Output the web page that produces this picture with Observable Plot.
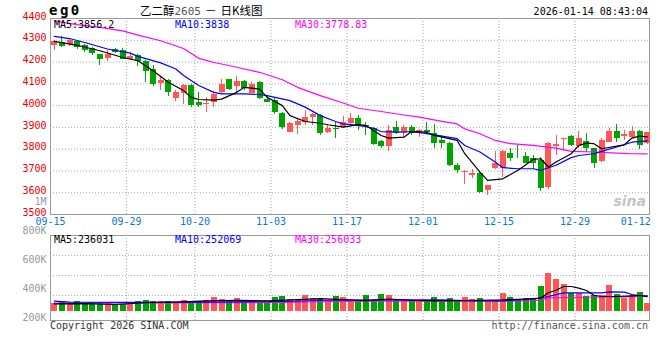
<!DOCTYPE html>
<html><head><meta charset="utf-8">
<script src="https://cdn.jsdelivr.net/npm/d3@7"></script>
<script src="https://cdn.jsdelivr.net/npm/@observablehq/plot@0.6"></script>
<style>
body{margin:0;background:#fff;}
#wrap{position:relative;width:660px;height:360px;overflow:hidden;background:#fff;}
#wrap svg{position:absolute;left:0;top:0;}
</style></head><body><div id="wrap"></div>
<script>
// ---------- data ----------
const dates = ["09-15","09-16","09-17","09-18","09-19","09-22","09-23","09-24","09-25","09-26",
  "09-29","09-30","10-09","10-10","10-13","10-14","10-15","10-16","10-17","10-20",
  "10-21","10-22","10-23","10-24","10-27","10-28","10-29","10-30","10-31","11-03",
  "11-04","11-05","11-06","11-07","11-10","11-11","11-12","11-13","11-14","11-17",
  "11-18","11-19","11-20","11-21","11-24","11-25","11-26","11-27","11-28","12-01",
  "12-02","12-03","12-04","12-05","12-08","12-09","12-10","12-11","12-12","12-15",
  "12-16","12-17","12-18","12-19","12-22","12-23","12-24","12-25","12-26","12-29",
  "12-30","12-31","01-05","01-06","01-07","01-08","01-09","01-12","01-13"];
const open  = [4278,4292,4280,4296,4274,4260,4234,4217,4257,4255,4212,4232,4202,4165,4102,4115,4034,4057,4092,4012,
  4003,4015,4062,4119,4087,4110,4054,4104,4028,4023,3962,3878,3909,3924,3947,3954,3878,3895,3901,3916,
  3939,3909,3893,3837,3810,3901,3875,3901,3871,3886,3871,3840,3825,3726,3693,3680,3687,3608,3710,3713,
  3779,3773,3767,3756,3749,3626,3814,3843,3858,3810,3836,3802,3744,3832,3881,3858,3855,3881,3825];
const high  = [4300,4316,4305,4300,4280,4268,4236,4253,4262,4260,4245,4236,4208,4183,4134,4118,4069,4099,4095,4061,
  4038,4067,4122,4122,4134,4115,4107,4110,4043,4038,3967,3921,3936,3977,3962,3958,3909,3924,3951,3962,
  3954,3921,3901,3840,3909,3927,3909,3909,3890,3921,3912,3863,3829,3733,3700,3707,3695,3634,3787,3794,
  3802,3817,3784,3771,3764,3829,3863,3851,3863,3881,3871,3805,3851,3897,3913,3886,3906,3884,3878];
const low   = [4254,4268,4272,4258,4245,4230,4183,4202,4240,4211,4206,4180,4107,4087,4069,4043,4020,4006,3993,3993,
  3970,3993,4055,4069,4061,4069,4054,4028,4012,3958,3890,3875,3866,3908,3909,3863,3871,3851,3897,3908,
  3886,3863,3817,3802,3790,3866,3855,3863,3855,3871,3805,3805,3722,3687,3637,3665,3597,3586,3707,3672,
  3744,3759,3733,3707,3607,3616,3771,3787,3814,3805,3784,3710,3741,3829,3832,3840,3848,3797,3822];
const close = [4293,4272,4300,4266,4252,4238,4211,4235,4244,4214,4225,4203,4157,4096,4115,4061,4061,4092,4000,4000,
  4008,4052,4098,4073,4110,4077,4099,4031,4015,3967,3901,3916,3927,3945,3958,3871,3897,3890,3924,3939,
  3909,3904,3822,3810,3886,3871,3901,3871,3886,3875,3825,3825,3726,3700,3698,3687,3599,3631,3733,3791,
  3759,3769,3736,3733,3619,3825,3822,3848,3817,3851,3802,3733,3840,3881,3848,3869,3881,3817,3878];
const volume = [123000,160000,112000,160000,123000,123000,123000,123000,112000,112000,
  123000,160000,176000,160000,160000,160000,123000,176000,160000,160000,
  176000,224000,192000,165000,208000,165000,160000,133000,133000,224000,
  240000,192000,176000,256000,208000,187000,176000,240000,224000,176000,
  176000,256000,176000,272000,256000,176000,176000,176000,176000,176000,
  224000,144000,208000,176000,224000,192000,208000,176000,176000,288000,
  224000,192000,208000,208000,400000,608000,512000,432000,283000,283000,
  240000,256000,256000,416000,272000,208000,256000,304000,128000];

// moving-average lines, read at sample candles (index, value)
const ma5Idx  = [0,3,6,9,11,13,15,17,18,19,21,22,24,25,27,28,30,31,33,35,36,38,40,41,43,44,46,47,49,50,53,54,56,57,59,61,63,64,65,66,68,69,70,71,72,74,75,76,77,78];
const ma5Val  = [4295,4277,4252,4221,4206,4160,4107,4069,4038,4028,4025,4030,4061,4084,4076,4038,4000,3954,3927,3919,3912,3901,3913,3909,3863,3851,3855,3881,3878,3863,3840,3779,3695,3657,3664,3703,3753,3756,3718,3741,3779,3817,3828,3825,3802,3814,3820,3851,3860,3856];
const ma10Idx = [0,2,4,7,10,11,14,16,17,19,21,22,25,27,28,31,33,35,37,38,40,42,43,46,47,49,51,53,54,56,58,59,61,63,64,66,68,69,71,72,74,76,78];
const ma10Val = [4318,4308,4290,4260,4241,4226,4196,4168,4138,4092,4061,4054,4054,4051,4046,4023,3993,3954,3927,3916,3909,3896,3881,3878,3881,3871,3860,3848,3817,3787,3741,3715,3710,3710,3703,3726,3761,3771,3779,3790,3810,3832,3838];
const ma30Idx = [0,3,6,9,11,14,17,19,21,22,24,27,30,32,35,38,40,43,46,48,51,53,54,56,58,60,63,66,68,71,74,76,78];
const ma30Val = [4389,4372,4359,4343,4324,4298,4262,4217,4198,4191,4176,4153,4119,4084,4046,4012,3988,3973,3957,3947,3928,3916,3893,3871,3840,3825,3817,3805,3790,3787,3782,3779,3778];

const vma5Idx  = [0,4,8,12,16,20,24,28,32,35,38,41,44,47,50,53,56,59,62,63,64,65,66,67,68,69,70,71,72,74,76,77,78];
const vma5Val  = [123000,125000,112000,140000,150000,170000,180000,170000,190000,205000,190000,175000,200000,180000,170000,175000,180000,185000,200000,205000,215000,300000,340000,400000,400000,375000,336000,260000,240000,240000,250000,256000,236000];
const vma10Idx = [0,2,10,20,30,36,44,51,55,59,63,65,67,72,73,75,76,77,78];
const vma10Val = [165000,150000,145000,150000,160000,180000,187000,185000,170000,170000,200000,240000,299000,299000,315000,309000,272000,256000,252000];
const vma30Idx = [0,15,30,37,45,55,63,64,65,70,75,78];
const vma30Val = [133000,136000,145000,160000,165000,165000,168000,190000,219000,228000,235000,245000];

const priceTicks = [3500,3600,3700,3800,3900,4000,4100,4200,4300,4400];
const labelDates = ["09-15","09-29","10-20","11-03","11-17","12-01","12-15","12-29","01-12"];
const volTicks = [200000,400000,600000,800000,1000000];
const volGrid = [256000,576000,896000];

// ---------- styles ----------
const RED = "#ff5656", GREEN = "#00a400";
const MONO = "DejaVu Sans Mono, monospace";
const DOT = {stroke:"#a8a8a8", strokeOpacity:1, strokeDasharray:"1,2"};

const candles = dates.map((d, i) => ({i, d, o: open[i], h: high[i], l: low[i], c: close[i], v: volume[i],
  col: close[i] >= open[i] ? RED : GREEN}));
const slots = labelDates.map(s => dates.indexOf(s) - 0.5);
const innerSlots = slots.slice(1, -1);
const pts = (idx, val) => idx.map((x, k) => ({x, y: val[k]}));
const xOpt = {type: "linear", domain: [-0.5, 78.3]};

const wrap = document.getElementById("wrap");

// ---------- volume panel ----------
const vol = Plot.plot({
  width: 660, height: 335, marginLeft: 50, marginRight: 11, marginTop: 235, marginBottom: 15,
  style: {background: "none", fontFamily: MONO, fontSize: "10px"},
  x: {...xOpt, axis: null},
  y: {domain: [0, 1000000], range: [311, 311 - 1000000 / 16000], axis: null},
  color: {type: "identity"},
  marks: [
    Plot.gridY(volGrid, DOT),
    Plot.gridX(innerSlots, DOT),
    Plot.frame({stroke: "#999"}),
    Plot.ruleX(candles, {x: "i", y1: 0, y2: "v", stroke: "col", strokeWidth: 6, shapeRendering: "crispEdges"}),
    Plot.line(pts(vma30Idx, vma30Val), {x: "x", y: "y", stroke: "#ff00ff", strokeWidth: 1.2}),
    Plot.line(pts(vma10Idx, vma10Val), {x: "x", y: "y", stroke: "#0000ff", strokeWidth: 1.2}),
    Plot.line(pts(vma5Idx, vma5Val), {x: "x", y: "y", stroke: "#000", strokeWidth: 1.2})
  ]
});
wrap.appendChild(vol);

// ---------- price panel ----------
const price = Plot.plot({
  width: 660, height: 230, marginLeft: 50, marginRight: 11, marginTop: 18, marginBottom: 16,
  style: {background: "none", fontFamily: MONO, fontSize: "10px"},
  x: xOpt,
  y: {domain: [3500, 4400]},
  color: {type: "identity"},
  marks: [
    Plot.gridY(priceTicks.slice(1, -1), DOT),
    Plot.gridX(innerSlots, DOT),
    Plot.frame({stroke: "#999"}),
    Plot.ruleX(candles, {x: "i", y1: "l", y2: "h", stroke: "col", strokeWidth: 1, shapeRendering: "crispEdges"}),
    Plot.ruleX(candles, {x: "i", y1: "o", y2: "c", stroke: "col", strokeWidth: 6, shapeRendering: "crispEdges"}),
    Plot.line(pts(ma30Idx, ma30Val), {x: "x", y: "y", stroke: "#ff00ff", strokeWidth: 1.2}),
    Plot.line(pts(ma10Idx, ma10Val), {x: "x", y: "y", stroke: "#0000ff", strokeWidth: 1.2}),
    Plot.line(pts(ma5Idx, ma5Val), {x: "x", y: "y", stroke: "#000", strokeWidth: 1.2}),
    Plot.axisY(priceTicks, {tickSize: 0, tickPadding: 4, color: "#ee0000", fill: "#ee0000", dy: -2, tickFormat: d => String(d)}),
    Plot.axisX(slots, {tickSize: 0, tickPadding: 3, color: "#0a78cc", fill: "#0a78cc",
      tickFormat: d => labelDates[slots.indexOf(d)]})
  ]
});
wrap.appendChild(price);

// ---------- volume axis labels ----------
const volAxis = Plot.plot({
  width: 660, height: 360, marginLeft: 50, marginRight: 11, marginTop: 0, marginBottom: 0,
  style: {background: "none", fontFamily: MONO, fontSize: "10px"},
  x: {domain: [0, 1], axis: null},
  y: {domain: [200000, 1000000], range: [317, 201]},
  marks: [
    Plot.axisY(volTicks, {tickSize: 0, tickPadding: 4, color: "#999", fill: "#999",
      tickFormat: d => d >= 1000000 ? (d / 1000000) + "M" : (d / 1000) + "K"})
  ]
});
wrap.appendChild(volAxis);

// ---------- titles, legends, captions ----------
const svg = d3.select(wrap).append("svg").attr("width", 660).attr("height", 360);
function txt(x, y, s, o = {}) {
  const t = svg.append("text").attr("x", x).attr("y", y).text(s)
    .attr("font-family", o.ff || MONO).attr("font-size", o.fs || 10).attr("fill", o.fill || "#000");
  if (o.anchor) t.attr("text-anchor", o.anchor);
  if (o.fw) t.attr("font-weight", o.fw);
  if (o.ls) t.attr("letter-spacing", o.ls);
  if (o.fst) t.attr("font-style", o.fst);
  return t;
}
txt(49, 15, "eg0", {fs: 14, fw: "bold", ls: 2.5});
const title = svg.append("text").attr("x", 140).attr("y", 15)
  .attr("font-family", "Noto Sans CJK SC, sans-serif").attr("font-size", 11.5).attr("fill", "#000");
title.append("tspan").text("乙二醇");
title.append("tspan").attr("fill", "#555").attr("font-family", MONO).attr("font-size", 11).text("2605");
title.append("tspan").attr("dx", 4).text("－");
title.append("tspan").attr("dx", 4).text("日K线图");
txt(648, 15, "2026-01-14 08:43:04", {anchor: "end"});

txt(54, 28, "MA5:3856.2", {fill: "#000"});
txt(175, 28, "MA10:3838", {fill: "#0000ff"});
txt(295, 28, "MA30:3778.83", {fill: "#ff00ff"});

txt(54, 243, "MA5:236031", {fill: "#000"});
txt(175, 243, "MA10:252069", {fill: "#0000ff"});
txt(295, 243, "MA30:256033", {fill: "#ff00ff"});

txt(50, 329, "Copyright 2026 SINA.COM", {fill: "#333"});
txt(648, 329, "http://finance.sina.com.cn", {anchor: "end", fill: "#555"});
txt(646, 206, "sina", {anchor: "end", fs: 14, fw: "bold", fst: "italic", fill: "#c4c4c4", ff: "DejaVu Sans, sans-serif"});
</script></body></html>
